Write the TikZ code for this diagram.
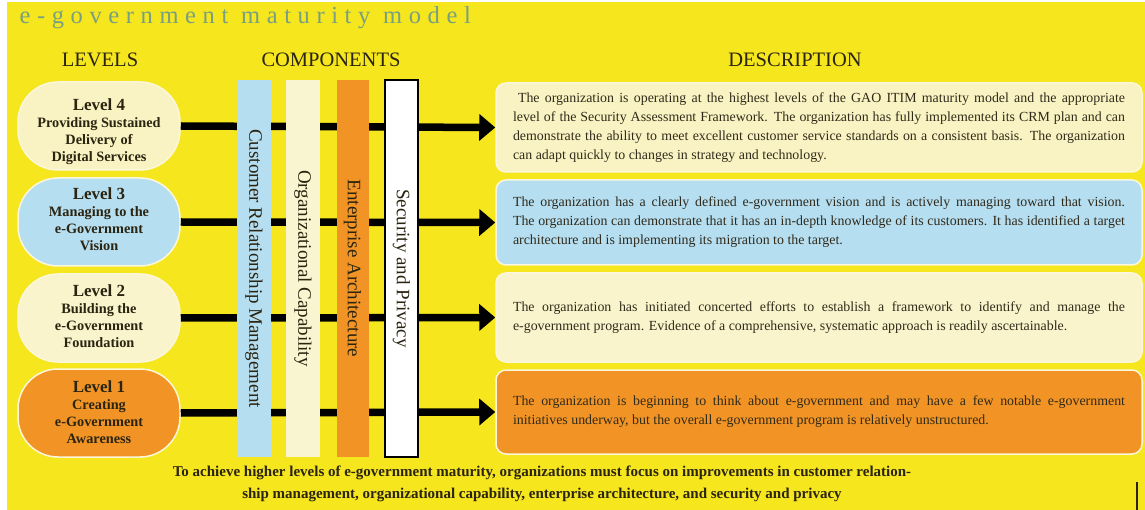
\documentclass[tikz,border=0pt]{standalone}
\usepackage{fontspec}
\setmainfont{Liberation Serif}
\newfontfamily\titlefont[LetterSpace=27]{Liberation Serif}
\usetikzlibrary{arrows.meta}

\definecolor{bgyellow}{RGB}{246,230,30}
\definecolor{titlegreen}{RGB}{120,160,128}
\definecolor{creamA}{RGB}{249,243,195}
\definecolor{creamB}{RGB}{249,244,204}
\definecolor{paleblue}{RGB}{182,222,241}
\definecolor{deeporange}{RGB}{242,148,37}
\definecolor{barcream}{RGB}{249,245,208}
\definecolor{paleedge}{RGB}{252,247,218}
\definecolor{inkdark}{RGB}{42,36,16}
\definecolor{inkdesc}{RGB}{48,42,26}

\newcommand{\desctext}[1]{\parbox{612pt}{\tolerance=10000\hbadness=10000\relax #1}}
\newcommand{\lvlhead}[1]{{\fontsize{17}{17}\selectfont #1}}

\tikzset{
  heading/.style={font=\fontsize{20.5}{22}\selectfont, text=inkdark},
  lvlshape/.style={draw=paleedge, line width=1.5pt, rounded corners=40pt,
    minimum width=162pt, minimum height=88pt, inner sep=0pt},
  lvltext/.style={align=center, text=inkdark,
    font=\bfseries\fontsize{14.3}{17}\selectfont},
  descbox/.style={draw=paleedge, line width=1.5pt, rounded corners=10pt,
    minimum width=646pt, inner sep=0pt, text=inkdesc,
    font=\fontsize{13.9}{19}\selectfont},
  compbar/.style={rotate=-90, minimum width=377pt, inner sep=0pt,
    text=inkdark, font=\fontsize{19}{19}\selectfont},
  flow/.style={line width=7.5pt, -{Triangle[length=16pt,width=26pt]}},
}

\begin{document}
\begin{tikzpicture}[x=1pt,y=-1pt]
\useasboundingbox (0,0) rectangle (1145,510);
\fill[bgyellow] (0,0) rectangle (1145,510);
\fill[white] (0,0) rectangle (7,510);
\fill[white] (0,0) rectangle (1145,2.5);

% title and column headings
\node[anchor=west, text=titlegreen, font=\titlefont\fontsize{24.5}{24}\selectfont]
  (title) at (16,18) {e-government maturity model};
\node[heading] (hlevels) at (100,60) {LEVELS};
\node[heading] (hcomp) at (331,60) {COMPONENTS};
\node[heading] (hdesc) at (795,60) {DESCRIPTION};

% maturity levels
\node[lvlshape, fill=creamA] (L4) at (99,126) {};
\node[lvlshape, fill=paleblue] (L3) at (99,222) {};
\node[lvlshape, fill=creamB] (L2) at (99,318) {};
\node[lvlshape, fill=deeporange] (L1) at (99,413) {};
\node[lvltext] (L4t) at (99,132) {\lvlhead{Level 4}\\Providing Sustained\\Delivery of\\Digital Services};
\node[lvltext] (L3t) at (99,219) {\lvlhead{Level 3}\\Managing to the\\e-Government\\Vision};
\node[lvltext] (L2t) at (99,316) {\lvlhead{Level 2}\\Building the\\e-Government\\Foundation};
\node[lvltext] (L1t) at (99,412) {\lvlhead{Level 1}\\Creating\\e-Government\\Awareness};

% descriptions
\node[descbox, fill=creamA, minimum height=89pt] (D4) at (819,127.5) {\desctext{%
\hspace*{5pt}The organization is operating at the highest levels of the GAO ITIM maturity model and the appropriate\linebreak
level of the Security Assessment Framework. The organization has fully implemented its CRM plan and can\linebreak
demonstrate the ability to meet excellent customer service standards on a consistent basis. The organization\linebreak
can adapt quickly to changes in strategy and technology.}};
\node[descbox, fill=paleblue, minimum height=85pt] (D3) at (819,222.5) {\desctext{%
The organization has a clearly defined e-government vision and is actively managing toward that vision.\linebreak
The organization can demonstrate that it has an in-depth knowledge of its customers. It has identified a target\linebreak
architecture and is implementing its migration to the target.}};
\node[descbox, fill=creamB, minimum height=89pt] (D2) at (819,317.5) {\desctext{%
The organization has initiated concerted efforts to establish a framework to identify and manage the\linebreak
e-government program. Evidence of a comprehensive, systematic approach is readily ascertainable.}};
\node[descbox, fill=deeporange, minimum height=84pt] (D1) at (819,412) {\desctext{%
The organization is beginning to think about e-government and may have a few notable e-government\linebreak
initiatives underway, but the overall e-government program is relatively unstructured.}};

% level-to-description arrows, passing behind the component bars
\draw[flow] (L4.east) -- (D4.west);
\draw[flow] (L3.east) -- (D3.west);
\draw[flow] (L2.east) -- (D2.west);
\draw[flow] (L1.east) -- (D1.west);

% components
\node[compbar, fill=paleblue, minimum height=34pt] (crm) at (254,268.5) {Customer Relationship Management};
\node[compbar, fill=barcream, minimum height=34pt] (orgcap) at (303,268.5) {Organizational Capability};
\node[compbar, fill=deeporange, minimum height=32pt] (entarch) at (352.5,268.5) {Enterprise Architecture};
\node[compbar, fill=white, draw=black, line width=1.5pt, minimum height=33pt] (secpriv) at (401.5,268.5) {Security and Privacy};

% closing note
\node[align=center, text=inkdark, font=\bfseries\fontsize{15}{22}\selectfont] (note) at (542,484)
  {To achieve higher levels of e-government maturity, organizations must focus on improvements in customer relation-\\
   ship management, organizational capability, enterprise architecture, and security and privacy};

% edge mark
\coordinate (markA) at (1137,482);
\coordinate (markB) at (1137,510);
\draw[line width=1.5pt, inkdark] (markA) -- (markB);
\end{tikzpicture}
\end{document}
